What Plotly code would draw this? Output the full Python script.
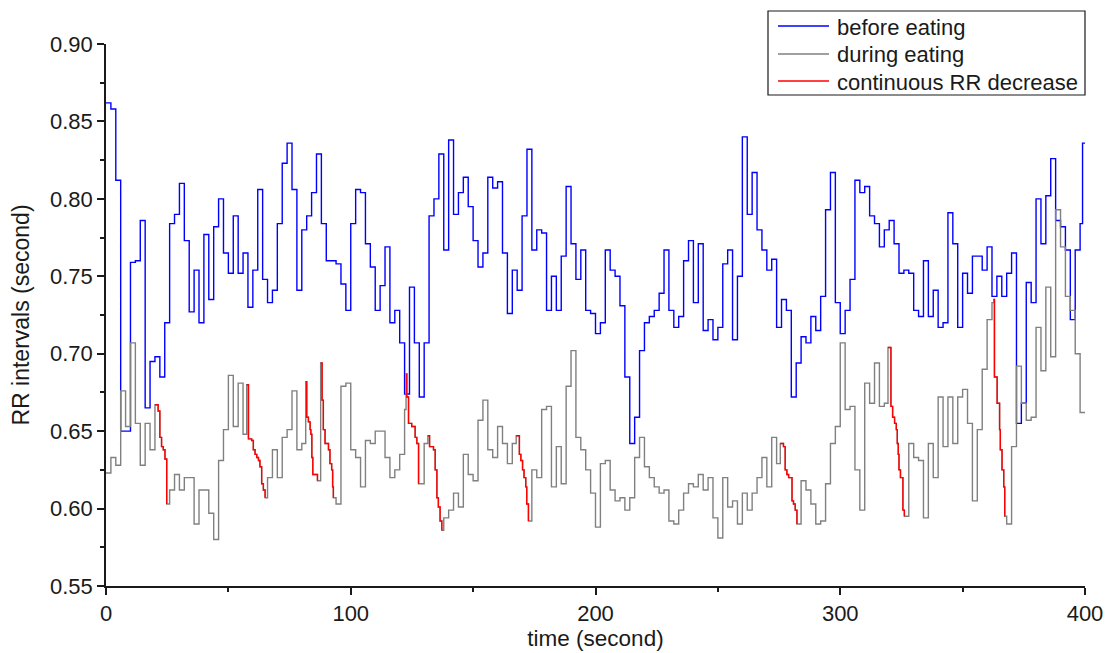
import plotly.graph_objects as go

# ---------------- data ----------------
# RR intervals before eating, sampled every 2 s from t = 0 to 398 s
before_v = [
    0.862, 0.858, 0.812, 0.650, 0.650, 0.759, 0.760, 0.786, 0.665, 0.695,
    0.698, 0.685, 0.720, 0.784, 0.790, 0.810, 0.773, 0.727, 0.754, 0.720,
    0.777, 0.735, 0.782, 0.800, 0.765, 0.752, 0.789, 0.752, 0.765, 0.730,
    0.754, 0.806, 0.748, 0.733, 0.741, 0.784, 0.823, 0.836, 0.806, 0.741,
    0.780, 0.789, 0.804, 0.829, 0.784, 0.760, 0.760, 0.758, 0.745, 0.728,
    0.784, 0.806, 0.804, 0.771, 0.756, 0.728, 0.744, 0.769, 0.720, 0.728,
    0.707, 0.674, 0.743, 0.707, 0.672, 0.707, 0.789, 0.800, 0.829, 0.767,
    0.838, 0.790, 0.804, 0.814, 0.795, 0.773, 0.756, 0.765, 0.814, 0.807,
    0.811, 0.765, 0.726, 0.754, 0.741, 0.789, 0.832, 0.767, 0.780, 0.778,
    0.728, 0.750, 0.728, 0.763, 0.808, 0.771, 0.748, 0.767, 0.728, 0.726,
    0.713, 0.720, 0.767, 0.754, 0.750, 0.731, 0.685, 0.642, 0.659, 0.702,
    0.720, 0.724, 0.728, 0.739, 0.767, 0.728, 0.717, 0.724, 0.760, 0.773,
    0.733, 0.771, 0.715, 0.722, 0.709, 0.717, 0.758, 0.767, 0.709, 0.750,
    0.840, 0.790, 0.817, 0.780, 0.767, 0.754, 0.761, 0.717, 0.735, 0.728,
    0.672, 0.694, 0.711, 0.707, 0.724, 0.715, 0.737, 0.793, 0.817, 0.733,
    0.713, 0.728, 0.748, 0.812, 0.804, 0.808, 0.789, 0.784, 0.769, 0.780,
    0.786, 0.771, 0.752, 0.754, 0.752, 0.728, 0.724, 0.760, 0.724, 0.741,
    0.717, 0.720, 0.791, 0.771, 0.717, 0.752, 0.739, 0.763, 0.763, 0.754,
    0.769, 0.737, 0.750, 0.737, 0.752, 0.765, 0.655, 0.668, 0.746, 0.733,
    0.800, 0.771, 0.802, 0.826, 0.786, 0.782, 0.767, 0.722, 0.767, 0.784,
]
before_tail_t = [399, 400]
before_tail_v = [0.836, 0.836]

# RR intervals during eating, sampled every 2 s from t = 0 to 398 s
during_v = [
    0.623, 0.633, 0.628, 0.676, 0.653, 0.707, 0.655, 0.628, 0.655, 0.638,
    0.667, 0.646, 0.632, 0.612, 0.622, 0.612, 0.620, 0.620, 0.590, 0.612,
    0.612, 0.597, 0.580, 0.631, 0.651, 0.686, 0.653, 0.681, 0.648, 0.680,
    0.638, 0.631, 0.616, 0.620, 0.638, 0.620, 0.646, 0.651, 0.676, 0.638,
    0.642, 0.659, 0.633, 0.620, 0.694, 0.642, 0.627, 0.603, 0.679, 0.681,
    0.638, 0.633, 0.614, 0.644, 0.642, 0.650, 0.650, 0.633, 0.620, 0.625,
    0.635, 0.664, 0.655, 0.646, 0.616, 0.642, 0.640, 0.635, 0.601, 0.594,
    0.599, 0.610, 0.601, 0.635, 0.622, 0.618, 0.657, 0.670, 0.638, 0.633,
    0.653, 0.642, 0.629, 0.642, 0.647, 0.625, 0.603, 0.625, 0.620, 0.664,
    0.666, 0.614, 0.640, 0.616, 0.679, 0.702, 0.646, 0.638, 0.625, 0.610,
    0.588, 0.629, 0.631, 0.612, 0.605, 0.607, 0.599, 0.607, 0.633, 0.646,
    0.627, 0.620, 0.614, 0.610, 0.612, 0.592, 0.590, 0.599, 0.610, 0.616,
    0.614, 0.622, 0.612, 0.620, 0.594, 0.581, 0.620, 0.601, 0.605, 0.590,
    0.610, 0.599, 0.610, 0.620, 0.633, 0.614, 0.646, 0.629, 0.642, 0.622,
    0.625, 0.590, 0.618, 0.612, 0.603, 0.590, 0.592, 0.616, 0.642, 0.653,
    0.707, 0.664, 0.666, 0.625, 0.599, 0.681, 0.668, 0.694, 0.666, 0.668,
    0.702, 0.655, 0.625, 0.595, 0.642, 0.633, 0.631, 0.594, 0.642, 0.620,
    0.672, 0.640, 0.672, 0.642, 0.672, 0.677, 0.655, 0.605, 0.651, 0.690,
    0.722, 0.733, 0.668, 0.625, 0.590, 0.640, 0.692, 0.668, 0.657, 0.659,
    0.717, 0.689, 0.743, 0.698, 0.793, 0.769, 0.737, 0.728, 0.700, 0.662,
]
during_tail_t = [400]
during_tail_v = [0.662]

# Episodes of continuous RR decrease (part of the "during eating" record)
decrease_t = [
    [20.0, 21.3, 22.0, 22.7, 23.4, 24.1, 24.8],
    [57.5, 58.2, 59.5, 60.2, 60.9, 61.6, 62.3, 62.9, 63.6, 64.3, 65.0],
    [81.6, 82.0, 82.7, 83.4, 83.7, 84.1, 84.5, 86.4],
    [87.7, 88.3, 88.8, 89.5, 90.9, 91.5, 92.2, 92.6, 92.9],
    [122.6, 122.9, 123.6, 124.9, 126.3, 127.0, 127.7],
    [131.5, 132.2, 133.8, 134.5, 135.2, 135.8, 136.5, 137.2],
    [167.6, 168.9, 169.5, 170.2, 170.8, 171.5, 171.9, 172.6],
    [275.5, 276.8, 277.5, 278.2, 278.9, 280.3, 280.9, 281.6, 282.3],
    [319.5, 320.7, 321.4, 322.2, 322.9, 323.3, 323.7, 324.0, 324.6, 325.6, 326.2],
    [362.7, 363.0, 364.1, 365.1, 365.4, 366.1, 366.8, 367.2],
]
decrease_v = [
    [0.667, 0.663, 0.646, 0.640, 0.638, 0.632, 0.603],
    [0.680, 0.645, 0.644, 0.638, 0.635, 0.633, 0.631, 0.627, 0.616, 0.612, 0.607],
    [0.682, 0.659, 0.656, 0.651, 0.648, 0.633, 0.622, 0.618],
    [0.694, 0.670, 0.651, 0.642, 0.638, 0.629, 0.625, 0.614, 0.607],
    [0.687, 0.672, 0.655, 0.653, 0.646, 0.642, 0.616],
    [0.647, 0.640, 0.638, 0.625, 0.607, 0.601, 0.592, 0.586],
    [0.647, 0.635, 0.631, 0.625, 0.620, 0.614, 0.603, 0.592],
    [0.642, 0.640, 0.625, 0.622, 0.620, 0.605, 0.603, 0.599, 0.590],
    [0.704, 0.666, 0.659, 0.655, 0.651, 0.642, 0.635, 0.625, 0.620, 0.599, 0.595],
    [0.735, 0.685, 0.668, 0.651, 0.638, 0.625, 0.614, 0.595],
]

series_names = ["before eating", "during eating", "continuous RR decrease"]
series_colors = ["#0000ff", "#808080", "#ff0000"]

x_tickvals = [0, 100, 200, 300, 400]
x_ticktext = ["0", "100", "200", "300", "400"]
y_tickvals = [0.55, 0.60, 0.65, 0.70, 0.75, 0.80, 0.85, 0.90]
y_ticktext = ["0.55", "0.60", "0.65", "0.70", "0.75", "0.80", "0.85", "0.90"]

# ---------------- build series ----------------
SAMPLE_DT = 2
before_t = [SAMPLE_DT * i for i in range(len(before_v))] + before_tail_t
before_y = before_v + before_tail_v

during_pts = list(zip([SAMPLE_DT * i for i in range(len(during_v))] + during_tail_t,
                      during_v + during_tail_v))
for seg_t, seg_v in zip(decrease_t, decrease_v):
    during_pts = [p for p in during_pts if not (seg_t[0] <= p[0] <= seg_t[-1])]
    during_pts += list(zip(seg_t, seg_v))
during_pts.sort()
during_t = [p[0] for p in during_pts]
during_y = [p[1] for p in during_pts]

red_x, red_y = [], []
for seg_t, seg_v in zip(decrease_t, decrease_v):
    red_x += seg_t + [None]
    red_y += seg_v + [None]

FONT = "Liberation Sans, Arial, sans-serif"
INK = "#1a1a1a"
LW = 1.4

fig = go.Figure()
for xs, ys, name, color in zip([before_t, during_t, red_x], [before_y, during_y, red_y],
                               series_names, series_colors):
    fig.add_trace(go.Scatter(x=xs, y=ys, mode="lines", name=name, connectgaps=False,
                             line=dict(color=color, width=LW, shape="hv")))

# ---------------- layout ----------------
# the page body has an 8 px margin, so the figure is sized to fit inside it
PAGE_OFF = 8
W, H = 1112 - PAGE_OFF, 653 - PAGE_OFF
ML, MR, MT, MB = 106 - PAGE_OFF, 27, 44 - PAGE_OFF, 67
PW, PH = W - ML - MR, H - MT - MB


def px_x(p):
    # p: pixel column in the 1112x653 window
    return (p - PAGE_OFF - ML) / PW


def px_y(p):
    return (H - MB - (p - PAGE_OFF)) / PH


axis_common = dict(
    showgrid=False, zeroline=False, showline=True, linecolor=INK, linewidth=1.5,
    ticks="outside", ticklen=7, tickwidth=1.5, tickcolor=INK, automargin=False,
    tickfont=dict(family=FONT, size=22, color=INK),
)

# legend box drawn by hand (matching the reference's frame and sample lengths)
shapes = [dict(type="rect", xref="paper", yref="paper",
               x0=px_x(768), x1=px_x(1085), y0=px_y(95), y1=px_y(11),
               line=dict(color=INK, width=1.2), fillcolor="white", layer="above")]
annotations = []
row_y = [26, 54, 81]
for ry, name, color in zip(row_y, series_names, series_colors):
    shapes.append(dict(type="line", xref="paper", yref="paper",
                       x0=px_x(778), x1=px_x(829), y0=px_y(ry), y1=px_y(ry),
                       line=dict(color=color, width=LW), layer="above"))
    annotations.append(dict(xref="paper", yref="paper", x=px_x(835), y=px_y(ry + 1),
                            xanchor="left", yanchor="middle", showarrow=False,
                            text=name, font=dict(family=FONT, size=22, color=INK)))

fig.update_layout(
    width=W, height=H,
    margin=dict(l=ML, r=MR, t=MT, b=MB),
    paper_bgcolor="white", plot_bgcolor="white",
    font=dict(family=FONT, color=INK),
    showlegend=False,
    shapes=shapes,
    annotations=annotations,
    xaxis=dict(range=[0, 400], tickmode="array", tickvals=x_tickvals, ticktext=x_ticktext,
               minor=dict(ticks="outside", ticklen=4, tickwidth=1.5, tickcolor=INK,
                          tick0=0, dtick=50),
               title=dict(text="time (second)", font=dict(family=FONT, size=22.5, color=INK),
                          standoff=2),
               **axis_common),
    yaxis=dict(range=[0.55, 0.90], tickmode="array", tickvals=y_tickvals, ticktext=y_ticktext,
               minor=dict(ticks="outside", ticklen=4, tickwidth=1.5, tickcolor=INK,
                          tick0=0.55, dtick=0.025),
               title=dict(text="RR intervals (second)", font=dict(family=FONT, size=23, color=INK),
                          standoff=14),
               **axis_common),
)

fig.write_html("out.html")
